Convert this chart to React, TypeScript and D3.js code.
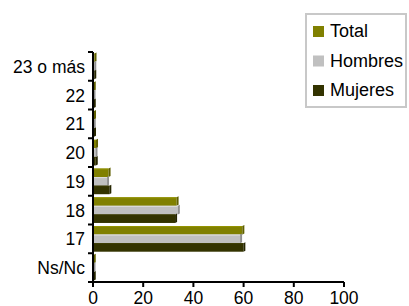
import * as d3 from 'd3';

const categories = ['Ns/Nc', '17', '18', '19', '20', '21', '22', '23 o más'];
const total = [0.3, 59.5, 33.3, 6.2, 1.2, 0.4, 0.3, 0.6];
const hombres = [0.2, 58.6, 33.8, 5.6, 1.0, 0.3, 0.2, 0.5];
const mujeres = [0.3, 59.9, 32.7, 6.5, 1.1, 0.4, 0.3, 0.5];
const xTicks = [0, 20, 40, 60, 80, 100];

const seriesNames = ['Total', 'Hombres', 'Mujeres'];
const seriesColors = ['#808000', '#c0c0c0', '#333300'];
const seriesData = [total, hombres, mujeres];

const W = 409;
const H = 306;
const left = 93;
const right = 344;
const top = 52;
const bottom = 282;
const font = 'Arial, "Liberation Sans", sans-serif';

export default function App() {
  const x = d3.scaleLinear().domain([0, 100]).range([left, right]);
  const y = d3
    .scaleBand<string>()
    .domain([...categories].reverse())
    .range([top, bottom])
    .paddingInner(0)
    .paddingOuter(0);
  const inner = d3.scaleBand<number>().domain([0, 1, 2]).range([0, y.bandwidth()]).paddingOuter(0.18);

  return (
    <svg
      width={W}
      height={H}
      style={{ position: 'absolute', left: 0, top: 0, background: '#fff' }}
      fontFamily={font}
    >
      {categories.map((c, ci) =>
        seriesData.map((vals, si) => {
          const y0 = (y(c) ?? 0) + (inner(si) ?? 0);
          const h = inner.bandwidth();
          const x1 = x(vals[ci]);
          const shade = d3.color(seriesColors[si])!.darker(0.8).toString();
          const light = d3.color(seriesColors[si])!.brighter(0.4).toString();
          return (
            <g key={`${c}-${si}`}>
              <rect x={left} y={y0} width={Math.max(0, x1 - left)} height={h} fill={seriesColors[si]} />
              <rect x={left} y={y0} width={Math.max(0, x1 - left)} height={1} fill={light} />
              <polygon
                points={`${x1},${y0} ${x1 + 2},${y0 - 1} ${x1 + 2},${y0 + h - 1} ${x1},${y0 + h}`}
                fill={shade}
              />
            </g>
          );
        })
      )}

      {/* y axis */}
      <line x1={left} x2={left} y1={top} y2={bottom} stroke="#000" strokeWidth={2} />
      {d3.range(categories.length + 1).map((i) => {
        const yy = top + i * y.step();
        return <line key={i} x1={left - 5} x2={left} y1={yy} y2={yy} stroke="#000" strokeWidth={2} />;
      })}
      {categories.map((c) => (
        <text
          key={c}
          x={left - 8}
          y={(y(c) ?? 0) + y.bandwidth() / 2 + 6.5}
          textAnchor="end"
          fontSize={17.5}
        >
          {c}
        </text>
      ))}

      {/* x axis */}
      <line x1={left - 1} x2={right} y1={bottom} y2={bottom} stroke="#000" strokeWidth={2} />
      {xTicks.map((t) => (
        <g key={t}>
          <line x1={x(t)} x2={x(t)} y1={bottom} y2={bottom + 5} stroke="#000" strokeWidth={2} />
          <text x={x(t)} y={bottom + 21.5} textAnchor="middle" fontSize={17.5}>
            {t}
          </text>
        </g>
      ))}

      {/* legend */}
      <rect x={306} y={14} width={100} height={93} fill="#fff" stroke="#c8c8c8" strokeWidth={2} />
      {seriesNames.map((n, i) => (
        <g key={n}>
          <rect x={313} y={26 + i * 29.5} width={11} height={11} fill={seriesColors[i]} />
          <text x={330} y={37 + i * 29.5} fontSize={18}>
            {n}
          </text>
        </g>
      ))}
    </svg>
  );
}
